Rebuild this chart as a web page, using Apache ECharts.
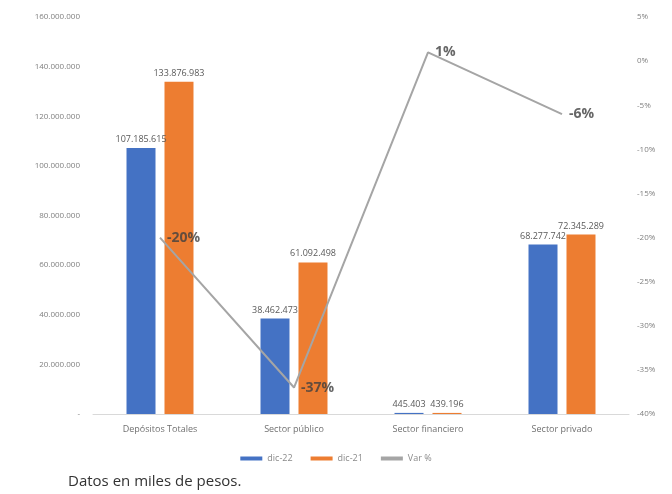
<!DOCTYPE html>
<html>
<head>
<meta charset="utf-8">
<script src="https://cdn.jsdelivr.net/npm/echarts@6/dist/echarts.min.js"></script>
<style>
  html, body { margin: 0; padding: 0; background: #fff; }
  #chart { width: 672px; height: 494px; }
</style>
</head>
<body>
<div id="chart"></div>
<script>
// Deposit categories and amounts (thousands of pesos)
const categories = ['Depósitos Totales', 'Sector público', 'Sector financiero', 'Sector privado'];
const dic22 = [107185615, 38462473, 445403, 68277742];
const dic21 = [133876983, 61092498, 439196, 72345289];
const varPct = [-20, -37, 1, -6];

const fmtThousands = v => String(Math.round(v)).replace(/\B(?=(\d{3})+(?!\d))/g, '.');
const textFont = '"Open Sans", "Liberation Sans", sans-serif';

const chart = echarts.init(document.getElementById('chart'));
chart.setOption({
  animation: false,
  backgroundColor: '#fff',
  textStyle: { fontFamily: textFont },
  grid: { left: 93, right: 43, top: 17, bottom: 80 },
  legend: {
    bottom: 26,
    left: 'center',
    itemWidth: 22,
    itemHeight: 4,
    itemGap: 18,
    textStyle: { fontSize: 9, color: '#8a8a8a', fontFamily: textFont },
    data: [
      { name: 'dic-22', icon: 'rect' },
      { name: 'dic-21', icon: 'rect' },
      { name: 'Var %', icon: 'rect' }
    ]
  },
  xAxis: {
    type: 'category',
    data: categories,
    axisLine: { lineStyle: { color: '#d9d9d9' } },
    axisTick: { show: false },
    axisLabel: { color: '#707070', fontSize: 9, margin: 11 }
  },
  yAxis: [
    {
      type: 'value',
      min: 0, max: 160000000, interval: 20000000,
      splitLine: { show: false },
      axisLine: { show: false },
      axisTick: { show: false },
      axisLabel: {
        color: '#808080', fontSize: 8, margin: 13,
        formatter: v => v === 0 ? '-' : fmtThousands(v)
      }
    },
    {
      type: 'value',
      min: -40, max: 5, interval: 5,
      splitLine: { show: false },
      axisLine: { show: false },
      axisTick: { show: false },
      axisLabel: { color: '#808080', fontSize: 8, margin: 8, formatter: v => v + '%' }
    }
  ],
  series: [
    {
      name: 'dic-22', type: 'bar', data: dic22,
      barWidth: 29, barGap: '31%',
      itemStyle: { color: '#4472C4' },
      label: {
        show: true, position: 'top', distance: 4,
        color: '#595959', fontSize: 9,
        formatter: p => fmtThousands(p.value)
      }
    },
    {
      name: 'dic-21', type: 'bar', data: dic21,
      barWidth: 29,
      itemStyle: { color: '#ED7D31' },
      label: {
        show: true, position: 'top', distance: 4,
        color: '#595959', fontSize: 9,
        formatter: p => fmtThousands(p.value)
      }
    },
    {
      name: 'Var %', type: 'line', yAxisIndex: 1, data: varPct,
      symbol: 'none',
      lineStyle: { color: '#A5A5A5', width: 2 },
      itemStyle: { color: '#A5A5A5' },
      z: 5
    },
    {
      // percentage labels placed on the Var % points
      name: 'Var % etiquetas', type: 'scatter', yAxisIndex: 1, data: varPct,
      symbolSize: 2,
      itemStyle: { color: 'rgba(165,165,165,0)' },
      label: {
        show: true, position: 'right', distance: 6,
        color: '#404040', fontSize: 14, fontWeight: 'bold',
        formatter: p => p.value + '%'
      },
      labelLayout: { hideOverlap: false },
      z: 6
    }
  ],
  graphic: [
    {
      type: 'text', left: 68, top: 474,
      style: { text: 'Datos en miles de pesos.', fontSize: 15, fill: '#333', fontFamily: textFont }
    }
  ]
});
</script>
</body>
</html>
